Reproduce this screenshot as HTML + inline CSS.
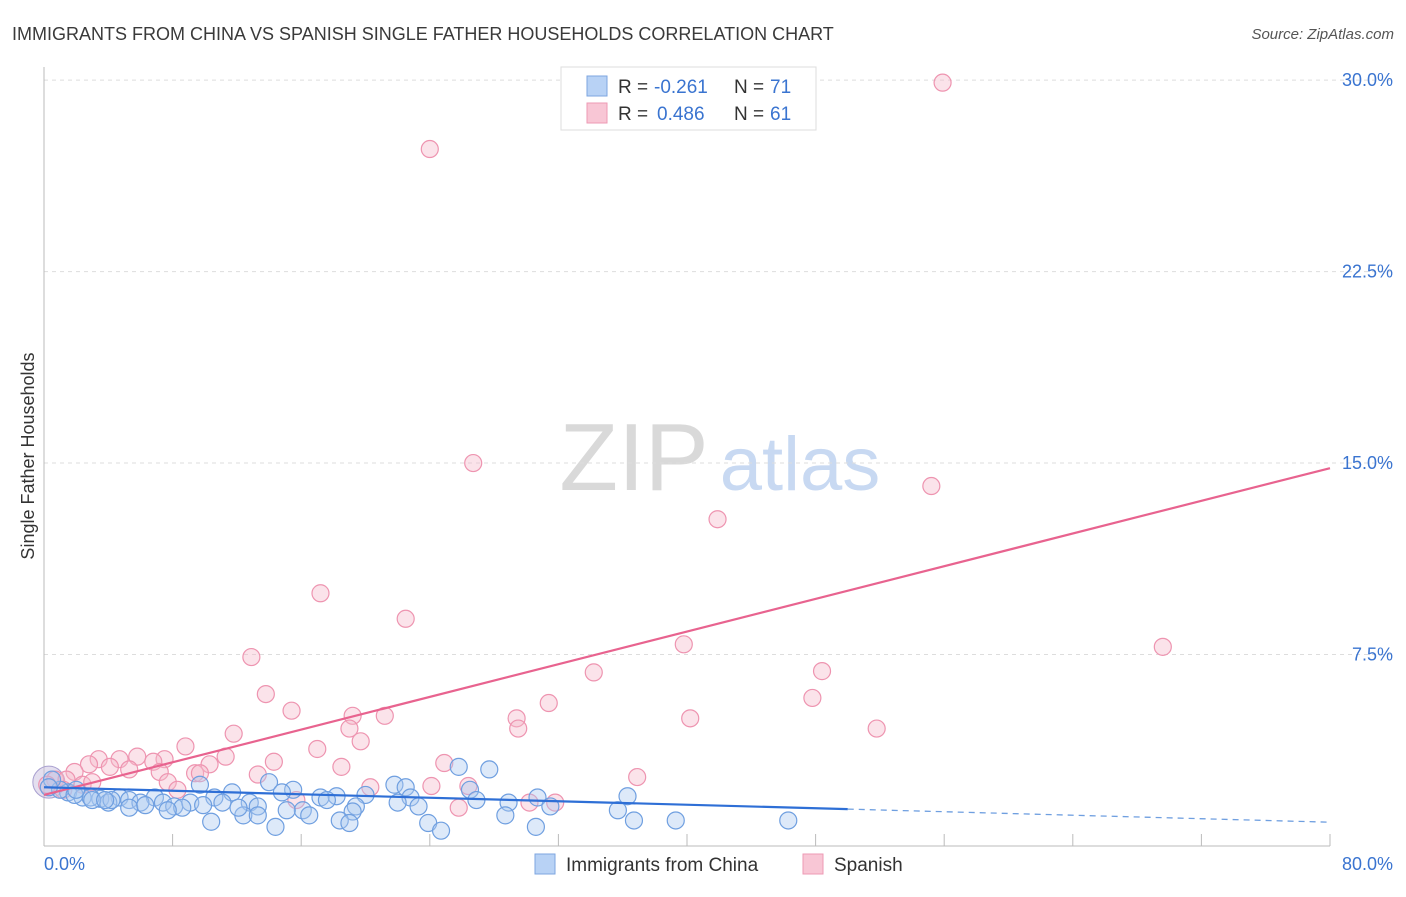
<!DOCTYPE html>
<html><head><meta charset="utf-8"><style>
body{margin:0;background:#fff;font-family:"Liberation Sans",sans-serif;}
svg text{font-family:"Liberation Sans",sans-serif;}
</style></head><body>
<svg id="chart" width="1406" height="892" viewBox="0 0 1406 892" xmlns="http://www.w3.org/2000/svg">
<text x="12" y="40" font-size="18" fill="#3a3a3a">IMMIGRANTS FROM CHINA VS SPANISH SINGLE FATHER HOUSEHOLDS CORRELATION CHART</text>
<text x="1394" y="39" font-size="15" fill="#555" text-anchor="end" font-style="italic">Source: ZipAtlas.com</text>
<g>
<text x="634" y="490" font-size="96" fill="#d9d9d9" font-family="Liberation Serif,serif" text-anchor="middle">ZIP</text>
<text x="800" y="490" font-size="76" fill="#c8d9f2" text-anchor="middle">atlas</text>
</g>
<g id="grid"></g>
<g id="axes"></g>
<g id="marks"></g>
<text transform="translate(34,456) rotate(-90)" font-size="18" fill="#333" text-anchor="middle">Single Father Households</text>
<g>
<rect x="561" y="67" width="255" height="63" fill="#fff" stroke="#ddd"/>
<rect x="587" y="76" width="20" height="20" fill="#b8d2f5" stroke="#7ea6e0"/>
<text x="618" y="93" font-size="19" fill="#333">R = </text><text x="654" y="93" font-size="19" fill="#3a74d0">-0.261</text>
<text x="734" y="93" font-size="19" fill="#333">N = </text><text x="770" y="93" font-size="19" fill="#3a74d0">71</text>
<rect x="587" y="103" width="20" height="20" fill="#f8c6d5" stroke="#ee9ab4"/>
<text x="618" y="120" font-size="19" fill="#333">R = </text><text x="657" y="120" font-size="19" fill="#3a74d0">0.486</text>
<text x="734" y="120" font-size="19" fill="#333">N = </text><text x="770" y="120" font-size="19" fill="#3a74d0">61</text>
</g>
<g>
<rect x="535" y="854" width="20" height="20" fill="#b8d2f5" stroke="#7ea6e0"/>
<text x="566" y="871" font-size="19" fill="#333">Immigrants from China</text>
<rect x="803" y="854" width="20" height="20" fill="#f8c6d5" stroke="#ee9ab4"/>
<text x="834" y="871" font-size="19" fill="#333">Spanish</text>
</g>
</svg>
<script>
const yTicks=[7.5,15,22.5,30];
const yTickLabels=["7.5%","15.0%","22.5%","30.0%"];
const xTickCount=10;
const xLabels=["0.0%","80.0%"];
const blueX=[25.8,27.7,14,21.8,22.5,9.7,15.5,14.8,20,36.3,18.2,26.5,30.7,22.8,17.2,4.7,6.9,10.6,11.7,1.5,1,2.4,3.5,4.0,5.3,6,7.4,8.1,9.1,11.1,12.8,13.3,26.9,28.9,22,19.4,23.3,31.5,5.3,8.6,7.7,16.1,15.1,16.5,19.2,35.7,28.7,12.4,13.3,10.4,18.4,19.0,23.9,36.7,39.3,46.3,14.4,24.7,30.6,0.5,2.9,1.9,3.0,4.2,6.3,0.3,2.0,3.8,9.9,12.1,17.6];
const blueY=[3.1,3.0,2.5,2.4,2.3,2.4,2.2,2.1,2.0,1.95,1.95,2.2,1.9,1.9,1.9,1.9,1.9,1.9,2.1,2.1,2.2,1.9,1.85,1.7,1.8,1.7,1.7,1.55,1.7,1.7,1.7,1.55,1.8,1.7,1.7,1.55,1.55,1.55,1.5,1.5,1.4,1.4,1.4,1.2,1.35,1.4,1.2,1.2,1.2,0.95,1.0,0.9,0.9,1.0,1.0,1.0,0.75,0.6,0.75,2.6,1.9,2.0,1.8,1.8,1.6,2.3,2.2,1.8,1.6,1.5,1.8];
const pinkX=[55.9,24.0,26.7,55.2,41.9,17.2,22.5,12.9,69.6,39.8,34.2,48.4,13.8,47.8,31.4,15.4,19.2,21.2,29.4,40.2,29.5,51.8,19.0,11.8,19.7,8.8,17.0,11.3,5.8,7.5,3.4,4.7,6.8,14.3,24.9,2.8,4.1,10.3,5.3,18.5,7.2,1.9,9.4,9.7,13.3,36.9,0.7,1.4,7.7,2.4,24.1,26.4,8.3,20.3,15.7,30.2,31.8,25.8,0.2,1.2,3.0];
const pinkY=[29.9,27.3,15.0,14.1,12.8,9.9,8.9,7.4,7.8,7.9,6.8,6.85,5.95,5.8,5.6,5.3,5.1,5.1,5.0,5.0,4.6,4.6,4.6,4.4,4.1,3.9,3.8,3.5,3.5,3.4,3.4,3.4,3.3,3.3,3.25,3.2,3.1,3.2,3.0,3.1,2.9,2.9,2.85,2.85,2.8,2.7,2.6,2.6,2.5,2.4,2.35,2.35,2.2,2.3,1.8,1.7,1.7,1.5,2.4,2.2,2.5];
const blueTrend=[2.3,-0.0171]; // intercept %, slope
const blueSolidEnd=50;
const pinkTrend=[2.0,0.16];
const X0=44,X1=1330,Y0=846,PXPER=25.53;
const xs=v=>X0+(v/80)*(X1-X0);
const ys=v=>Y0-v*PXPER;
const NS="http://www.w3.org/2000/svg";
function mk(parent,tag,attrs){const e=document.createElementNS(NS,tag);for(const k in attrs)e.setAttribute(k,attrs[k]);document.getElementById(parent).appendChild(e);return e;}
yTicks.forEach((t,i)=>{
 const g=mk('grid','line',{x1:X0,x2:1394,y1:ys(t),y2:ys(t),stroke:'#ddd','stroke-dasharray':'4,4'});
 
 
 const l=mk('axes','text',{x:1393,y:ys(t)+6,'font-size':18,fill:'#3a74d0','text-anchor':'end'});
 l.textContent=yTickLabels[i];
 
 
});
const al=mk('axes','line',{x1:X0,x2:X0,y1:67,y2:846,stroke:'#bbb'});


const ax=mk('axes','line',{x1:X0,x2:X1,y1:846,y2:846,stroke:'#bbb'});


for(let i=1;i<=xTickCount;i++){
 const t=mk('axes','line',{x1:xs(i*8),x2:xs(i*8),y1:834,y2:846,stroke:'#bbb'});
 
 
}
[[0,xLabels[0],'start',44],[80,xLabels[1],'end',1393]].forEach(a=>{
 const l=mk('axes','text',{x:a[3],y:870,'font-size':18,fill:'#3a74d0','text-anchor':a[2]});
 l.textContent=a[1];
 
 
});
const big=mk('marks','circle',{cx:xs(0.3),cy:ys(2.5),r:16,fill:'#c9c0e0','fill-opacity':0.5,stroke:'#a9a0d0'});


pinkX.forEach((v,i)=>{
 const c=mk('marks','circle',{cx:xs(v),cy:ys(pinkY[i]),r:8.5,fill:'#f6b8cb','fill-opacity':0.4,stroke:'#ee94b0','stroke-width':1.2});
 
 
});
blueX.forEach((v,i)=>{
 const c=mk('marks','circle',{cx:xs(v),cy:ys(blueY[i]),r:8.5,fill:'#a9c8f0','fill-opacity':0.4,stroke:'#6f9fe0','stroke-width':1.2});
 
 
});
const pl=mk('marks','line',{x1:xs(0),y1:ys(pinkTrend[0]),x2:xs(80),y2:ys(pinkTrend[0]+pinkTrend[1]*80),stroke:'#e8638f','stroke-width':2.2});


const bl=mk('marks','line',{x1:xs(0),y1:ys(blueTrend[0]),x2:xs(blueSolidEnd),y2:ys(blueTrend[0]+blueTrend[1]*blueSolidEnd),stroke:'#2e6fd6','stroke-width':2.2});


const bd=mk('marks','line',{x1:xs(blueSolidEnd),y1:ys(blueTrend[0]+blueTrend[1]*blueSolidEnd),x2:xs(80),y2:ys(blueTrend[0]+blueTrend[1]*80),stroke:'#6f9fe0','stroke-width':1.3,'stroke-dasharray':'6,5'});


</script>
</body></html>
